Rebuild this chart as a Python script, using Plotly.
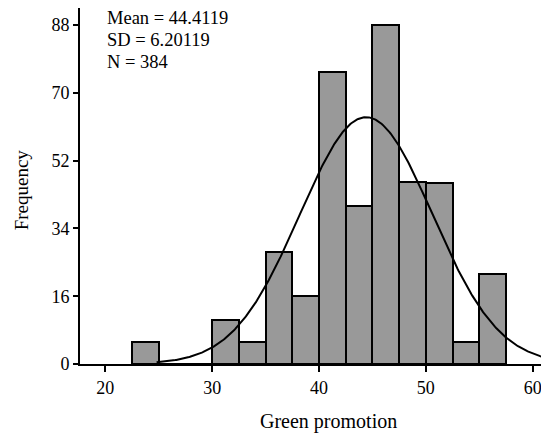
import numpy as np
import plotly.graph_objects as go

# Histogram data (bin edges of width 2.5, counts)
bin_starts = [22.5, 25.0, 27.5, 30.0, 32.5, 35.0, 37.5, 40.0, 42.5, 45.0, 47.5, 50.0, 52.5, 55.0]
counts =     [5.6,  0,    0,    11.1, 5.6,  28.1, 16.9, 73.1, 39.6, 84.9, 45.6, 45.3, 5.6,  22.6]
bin_width = 2.5

# Summary statistics shown on the chart
mean_val = 44.4119
sd_val = 6.20119
n_val = 384

x_tick_vals = [20, 30, 40, 50, 60]
x_tick_text = ["20", "30", "40", "50", "60"]
y_tick_vals = [0, 16.96, 33.93, 50.89, 67.86, 84.82]
y_tick_text = ["0", "16", "34", "52", "70", "88"]

x_range = [17.63, 61.53]
y_range = [0, 89.08]
curve_range = [24.8, 61.53]

centers = [s + bin_width / 2 for s in bin_starts]

# Fitted normal curve from the stated mean / SD / N
xc = np.linspace(curve_range[0], curve_range[1], 400)
yc = n_val * bin_width * np.exp(-0.5 * ((xc - mean_val) / sd_val) ** 2) / (sd_val * np.sqrt(2 * np.pi))

FONT = "Liberation Serif"
OFF = 8  # page body margin
W, H = 541, 427
L, T, B = 72, 0, 70.7
PW, PH = W - L, H - T - B


def px_to_paper(xp, yp):
    xf, yf = xp - OFF, yp - OFF
    return (xf - L) / PW, 1 - (yf - T) / PH


fig = go.Figure()
fig.add_trace(go.Bar(
    x=centers, y=counts, width=bin_width,
    marker=dict(color="#999999", line=dict(color="black", width=2)),
    showlegend=False, hoverinfo="skip",
))
fig.add_trace(go.Scatter(
    x=xc, y=yc, mode="lines", line=dict(color="black", width=2),
    showlegend=False, hoverinfo="skip", cliponaxis=True,
))

fig.update_layout(
    width=W, height=H,
    margin=dict(l=L, r=0, t=T, b=B),
    plot_bgcolor="white", paper_bgcolor="white",
    font=dict(family=FONT, size=18, color="black"),
    bargap=0,
    xaxis=dict(
        range=x_range, tickvals=x_tick_vals, ticktext=x_tick_text,
        showline=True, linecolor="black", linewidth=2,
        ticks="outside", ticklen=6, tickwidth=2, tickcolor="black",
        showgrid=False, zeroline=False,
        tickfont=dict(family=FONT, size=18),
    ),
    yaxis=dict(
        range=y_range, tickvals=y_tick_vals, ticktext=y_tick_text,
        showline=True, linecolor="black", linewidth=2,
        ticks="outside", ticklen=5, tickwidth=2, tickcolor="black",
        showgrid=False, zeroline=False,
        tickfont=dict(family=FONT, size=18),
    ),
)

stats_lines = [f"Mean = {mean_val}", f"SD = {sd_val}", f"N = {n_val}"]
line_y_px = [18.3, 40.0, 61.7]
for txt, ypx in zip(stats_lines, line_y_px):
    px, py = px_to_paper(105, ypx)
    fig.add_annotation(
        text=txt, xref="paper", yref="paper", x=px, y=py,
        xanchor="left", yanchor="middle", showarrow=False,
        font=dict(family=FONT, size=18.5, color="black"),
    )

px, py = px_to_paper(328, 421.7)
fig.add_annotation(
    text="Green promotion", xref="paper", yref="paper", x=px, y=py,
    xanchor="center", yanchor="middle", showarrow=False,
    font=dict(family=FONT, size=20, color="black"),
)
px, py = px_to_paper(21.5, 190)
fig.add_annotation(
    text="Frequency", xref="paper", yref="paper", x=px, y=py,
    xanchor="center", yanchor="middle", showarrow=False, textangle=-90,
    font=dict(family=FONT, size=19, color="black"),
)

fig.write_html("out.html")
